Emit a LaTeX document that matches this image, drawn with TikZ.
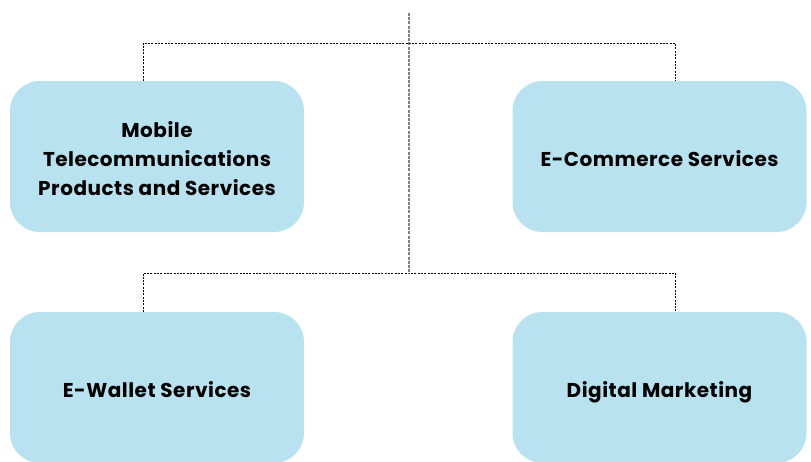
\documentclass[tikz,border=0pt]{standalone}
\usepackage{fontspec}
\setmainfont{Poppins}
\usetikzlibrary{positioning}

\definecolor{boxblue}{HTML}{B8E2EF}
\tikzset{
  unitbox/.style={rectangle, rounded corners=30pt, fill=boxblue, draw=none,
    minimum width=294pt, minimum height=151pt, align=center,
    font=\fontsize{20}{29}\selectfont\bfseries\addfontfeatures{LetterSpace=2.5}, text=black},
  oneline/.style={unitbox, text height=24pt, text depth=5pt},
  link/.style={dash pattern=on 2pt off 1.3pt, line width=0.8pt, black},
  trunk/.style={dash pattern=on 3pt off 1.2pt, line width=1.2pt, gray}
}

\begin{document}
\begin{tikzpicture}[x=1pt,y=-1pt]
    \useasboundingbox (0,0) rectangle (811,461);

    \node[unitbox] (mobile) at (157,156.5) {\rule{0pt}{21pt}Mobile\\Telecommunications\\Products and Services};
    \node[oneline] (ecom) at (659.5,156.5) {E-Commerce Services};
    \node[oneline] (wallet) at (157,387.5) {E-Wallet Services};
    \node[oneline] (digital) at (659.5,387.5) {Digital Marketing};

    \coordinate (root) at (409,13);
    \coordinate (hubA) at (409,43);
    \coordinate (hubB) at (409,273);

    \draw[trunk] (root) -- (hubB);

    \draw[link] ([xshift=-14pt]mobile.north) |- (hubA) -| ([xshift=15.5pt]ecom.north);
    \draw[link] ([xshift=-14pt]wallet.north) |- (hubB) -| ([xshift=15.5pt]digital.north);
\end{tikzpicture}
\end{document}
